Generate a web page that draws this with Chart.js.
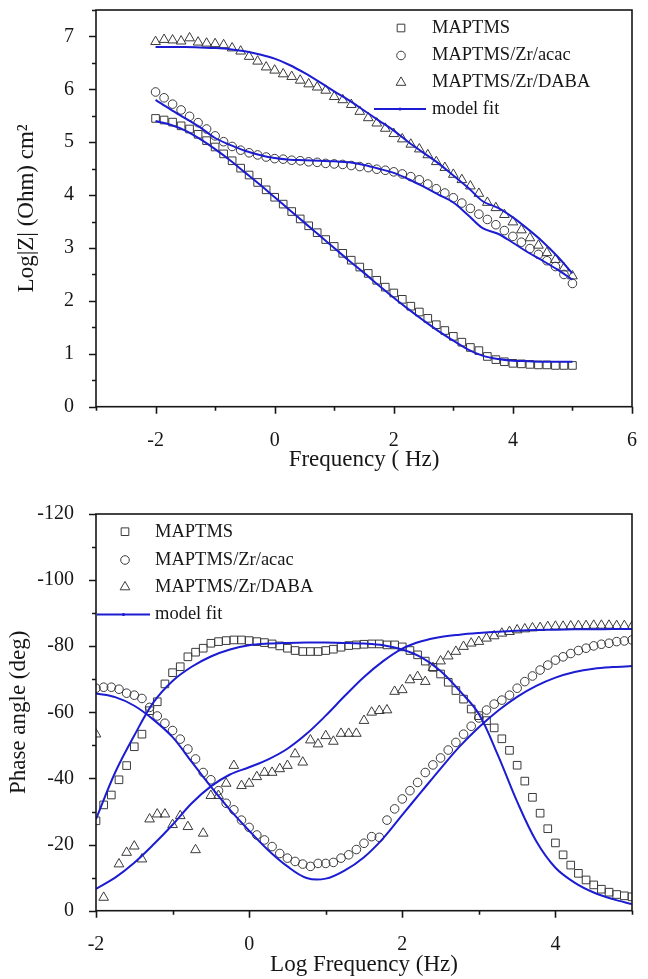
<!DOCTYPE html>
<html>
<head>
<meta charset="utf-8">
<script src="https://cdn.jsdelivr.net/npm/chart.js@4.4.1/dist/chart.umd.min.js"></script>
<style>
  html, body { margin: 0; padding: 0; background: #fff; }
  #wrap { position: relative; width: 648px; height: 979px; }
  canvas { position: absolute; left: 0; }
  #impedance { top: 0; }
  #phase { top: 490px; }
</style>
</head>
<body>
<div id="wrap">
  <canvas id="impedance" width="648" height="490"></canvas>
  <canvas id="phase" width="648" height="489"></canvas>
</div>
<script>
// log frequency of the |Z| points (about 7 per decade)
const zFreq = [
  -2.000, -1.857, -1.714, -1.571, -1.429, -1.286, -1.143, -1.000, -0.857, -0.714,
  -0.571, -0.429, -0.286, -0.143,  0.000,  0.143,  0.286,  0.429,  0.571,  0.714,
   0.857,  1.000,  1.143,  1.286,  1.429,  1.571,  1.714,  1.857,  2.000,  2.143,
   2.286,  2.429,  2.571,  2.714,  2.857,  3.000,  3.143,  3.286,  3.429,  3.571,
   3.714,  3.857,  4.000,  4.143,  4.286,  4.429,  4.571,  4.714,  4.857,  5.000
];
// log frequency of the phase points (10 per decade)
const pFreq = [
  -2.0, -1.9, -1.8, -1.7, -1.6, -1.5, -1.4, -1.3, -1.2, -1.1,
  -1.0, -0.9, -0.8, -0.7, -0.6, -0.5, -0.4, -0.3, -0.2, -0.1,
   0.0,  0.1,  0.2,  0.3,  0.4,  0.5,  0.6,  0.7,  0.8,  0.9,
   1.0,  1.1,  1.2,  1.3,  1.4,  1.5,  1.6,  1.7,  1.8,  1.9,
   2.0,  2.1,  2.2,  2.3,  2.4,  2.5,  2.6,  2.7,  2.8,  2.9,
   3.0,  3.1,  3.2,  3.3,  3.4,  3.5,  3.6,  3.7,  3.8,  3.9,
   4.0,  4.1,  4.2,  4.3,  4.4,  4.5,  4.6,  4.7,  4.8,  4.9, 5.0
];
// log frequency of the model fit curves
const fitFreq = [-2, -1.75, -1.5, -1.25, -1, -0.75, -0.5, -0.25, 0, 0.25, 0.5, 0.75, 1, 1.25,
  1.5, 1.75, 2, 2.25, 2.5, 2.75, 3, 3.25, 3.5, 3.75, 4, 4.25, 4.5, 4.75, 5];

// Log|Z| measured
const zMaptms = [
  5.45, 5.42, 5.38, 5.31, 5.25, 5.15, 5.03, 4.91, 4.78, 4.65,
  4.51, 4.38, 4.24, 4.10, 3.96, 3.83, 3.69, 3.55, 3.42, 3.29,
  3.16, 3.03, 2.90, 2.77, 2.64, 2.52, 2.39, 2.26, 2.15, 2.03,
  1.90, 1.79, 1.67, 1.55, 1.44, 1.33, 1.22, 1.12, 1.06, 0.95,
  0.89, 0.85, 0.82, 0.81, 0.80, 0.79, 0.79, 0.78, 0.78, 0.78
];
const zAcac = [
  5.95, 5.84, 5.72, 5.61, 5.49, 5.37, 5.25, 5.12, 5.01, 4.92,
  4.85, 4.80, 4.76, 4.72, 4.69, 4.68, 4.66, 4.65, 4.63, 4.62,
  4.60, 4.59, 4.58, 4.56, 4.54, 4.52, 4.49, 4.47, 4.44, 4.40,
  4.35, 4.29, 4.21, 4.12, 4.04, 3.95, 3.85, 3.75, 3.64, 3.54,
  3.44, 3.33, 3.22, 3.11, 2.99, 2.88, 2.76, 2.65, 2.50, 2.33
];
const zDaba = [
  6.90, 6.94, 6.93, 6.91, 6.97, 6.89, 6.87, 6.86, 6.84, 6.78,
  6.72, 6.62, 6.53, 6.42, 6.36, 6.29, 6.24, 6.17, 6.10, 6.04,
  5.98, 5.86, 5.80, 5.71, 5.58, 5.46, 5.36, 5.26, 5.16, 5.06,
  4.96, 4.87, 4.76, 4.63, 4.52, 4.39, 4.29, 4.17, 4.03, 3.86,
  3.76, 3.63, 3.49, 3.34, 3.19, 3.05, 2.91, 2.78, 2.62, 2.47
];
// Log|Z| model fit
const zFitMaptms = [5.40, 5.33, 5.22, 5.06, 4.87, 4.66, 4.43, 4.20, 3.96, 3.72, 3.48, 3.24, 3.00, 2.76,
  2.53, 2.29, 2.06, 1.84, 1.63, 1.43, 1.25, 1.08, 0.96, 0.90, 0.87, 0.86, 0.85, 0.85, 0.85];
const zFitAcac = [5.80, 5.62, 5.45, 5.28, 5.08, 4.95, 4.84, 4.76, 4.70, 4.67, 4.66, 4.65, 4.64, 4.62,
  4.57, 4.50, 4.42, 4.30, 4.16, 4.01, 3.86, 3.62, 3.37, 3.27, 3.10, 2.92, 2.76, 2.59, 2.40];
const zFitDaba = [6.80, 6.80, 6.80, 6.79, 6.78, 6.76, 6.72, 6.66, 6.58, 6.46, 6.31, 6.14, 5.96, 5.79,
  5.60, 5.41, 5.22, 5.00, 4.80, 4.60, 4.37, 4.14, 3.88, 3.76, 3.58, 3.36, 3.12, 2.84, 2.52];

// phase angle measured (deg)
const pMaptms = [
  -27.2, -32.0, -35.0, -39.6, -43.9, -49.6, -53.4, -60.5, -63.2, -68.6,
  -72.0, -73.8, -76.8, -78.2, -79.4, -80.9, -81.4, -81.7, -81.9, -81.9,
  -81.7, -81.4, -81.1, -80.7, -80.1, -79.4, -78.7, -78.4, -78.4, -78.4,
  -78.7, -79.1, -79.7, -80.2, -80.4, -80.6, -80.7, -80.7, -80.4, -80.4,
  -79.8, -78.7, -77.4, -75.5, -73.6, -71.6, -69.1, -66.6, -64.0, -61.0,
  -59.0, -57.5, -55.3, -52.0, -48.5, -44.0, -39.2, -34.3, -29.5, -24.8,
  -20.5, -16.9, -13.8, -11.3, -9.3, -7.8, -6.5, -5.6, -4.9, -4.5, -4.2
];
const pAcac = [
  -67.3, -67.6, -67.6, -67.0, -65.8, -65.2, -64.2, -61.5, -58.9, -56.7,
  -54.5, -51.9, -48.9, -45.9, -41.8, -39.6, -36.3, -32.5, -30.5, -27.4,
  -25.2, -22.9, -21.4, -19.4, -17.3, -15.9, -14.9, -14.1, -13.4, -14.3,
  -14.3, -14.6, -15.9, -16.9, -18.5, -20.4, -22.4, -22.2, -27.4, -30.8,
  -33.8, -36.3, -38.8, -41.8, -44.1, -46.2, -48.6, -50.9, -53.4, -55.8,
  -58.3, -60.7, -62.5, -63.7, -65.2, -67.3, -69.3, -71.0, -72.8, -74.3,
  -75.8, -76.8, -77.8, -78.7, -79.4, -80.1, -80.6, -80.9, -81.4, -81.6, -81.9
];
const pDaba = [
  -53.4, -4.0, null, -14.1, -17.6, -19.5, -15.6, -27.7, -29.2, -29.2,
  -26.0, -28.7, -25.4, -18.4, -23.4, -34.8, -34.8, -38.5, -43.9, -37.8,
  -38.5, -40.5, -41.8, -41.8, -42.9, -43.9, -47.4, -44.9, -51.6, -50.4,
  -52.9, -51.2, -53.6, -53.6, -53.6, -57.5, -60.0, -60.5, -60.7, -66.3,
  -66.8, -69.8, -70.8, -69.3, -73.5, -75.5, -77.0, -78.4, -79.9, -80.9,
  -81.4, -82.4, -83.1, -83.9, -84.4, -84.9, -85.2, -85.5, -85.6, -85.9,
  -86.0, -86.0, -86.1, -86.2, -86.2, -86.3, -86.3, -86.3, -86.2, -86.2, -86.0
];
// phase angle model fit
const pFitMaptms = [-27.7, -41.8, -53.0, -63.0, -69.5, -73.8, -76.9, -79.0, -80.3, -80.8, -81.0, -81.1,
  -81.1, -81.0, -80.8, -80.3, -79.0, -76.6, -72.5, -66.5, -59.5, -47.0, -33.0, -21.0, -13.0, -8.5, -5.5, -3.5, -2.0];
const pFitAcac = [-65.7, -64.6, -62.0, -57.8, -52.5, -45.0, -37.5, -30.5, -24.2, -18.3, -13.4, -9.9,
  -9.7, -12.2, -16.2, -21.9, -29.0, -36.0, -43.0, -49.7, -55.5, -60.5, -64.7, -68.0, -70.5, -72.2, -73.2, -73.7, -74.0];
const pFitDaba = [-6.6, -10.0, -14.5, -20.0, -26.0, -32.5, -37.6, -41.2, -43.4, -45.8, -49.0, -53.5,
  -59.0, -65.0, -70.7, -75.5, -79.3, -81.5, -82.8, -83.5, -84.0, -84.4, -84.7, -84.9, -85.0, -85.1, -85.1, -85.2, -85.2];

const seriesNames = ['MAPTMS', 'MAPTMS/Zr/acac', 'MAPTMS/Zr/DABA'];

const SERIF = "'Liberation Serif', 'Times New Roman', serif";
const INK = '#161616';
const FIT_BLUE = '#1c1cd2';

function pts(xs, ys) {
  return xs.map((x, i) => ({ x: x, y: ys[i] }));
}

function markerSet(label, xs, ys, style, r) {
  return {
    label: label, data: pts(xs, ys), showLine: false,
    pointStyle: style, pointRadius: r, pointHoverRadius: r,
    borderColor: '#3a3a3a', backgroundColor: 'rgba(0,0,0,0)', pointBorderWidth: 1,
    clip: 0, order: 2
  };
}

function fitSet(xs, ys) {
  return {
    label: 'model fit', data: pts(xs, ys), showLine: true, pointRadius: 0,
    borderColor: FIT_BLUE, borderWidth: 2, tension: 0.35,
    clip: 0, order: 1
  };
}

// box around the plot and outward ticks (long where labelled)
const frameTicks = {
  id: 'frameTicks',
  afterDraw(chart) {
    const { ctx, chartArea: a, scales } = chart;
    ctx.save();
    ctx.strokeStyle = INK;
    ctx.lineWidth = 1.6;
    ctx.strokeRect(a.left, a.top, a.right - a.left, a.bottom - a.top);
    ctx.beginPath();
    scales.x.ticks.forEach(t => {
      const px = Math.round(scales.x.getPixelForValue(t.value)) + 0.5;
      const len = t.label === '' ? 4 : 7;
      ctx.moveTo(px, a.bottom);
      ctx.lineTo(px, a.bottom + len);
    });
    scales.y.ticks.forEach(t => {
      const py = Math.round(scales.y.getPixelForValue(t.value)) + 0.5;
      const len = t.label === '' ? 4 : 7;
      ctx.moveTo(a.left, py);
      ctx.lineTo(a.left - len, py);
    });
    ctx.stroke();
    ctx.restore();
  }
};

// legend drawn inside the plot area
const insideLegend = {
  id: 'insideLegend',
  afterDraw(chart, args, opts) {
    if (!opts.rows) return;
    const ctx = chart.ctx;
    ctx.save();
    ctx.font = '18.5px ' + SERIF;
    ctx.textBaseline = 'middle';
    opts.entries.forEach((idx, i) => {
      const ds = chart.data.datasets[idx];
      const y = opts.rows[i];
      if (ds.showLine) {
        ctx.strokeStyle = ds.borderColor;
        ctx.lineWidth = 2;
        ctx.beginPath();
        ctx.moveTo(opts.lineFrom, y);
        ctx.lineTo(opts.lineTo, y);
        ctx.stroke();
        ctx.fillStyle = ds.borderColor;
        ctx.beginPath();
        ctx.arc((opts.lineFrom + opts.lineTo) / 2, y, 1.6, 0, Math.PI * 2);
        ctx.fill();
      } else {
        ctx.strokeStyle = ds.borderColor;
        ctx.fillStyle = 'rgba(0,0,0,0)';
        ctx.lineWidth = 1;
        Chart.helpers.drawPoint(ctx, { pointStyle: ds.pointStyle, radius: ds.pointRadius, borderWidth: 1, rotation: 0 }, opts.markerX, y);
      }
      ctx.fillStyle = INK;
      ctx.fillText(ds.label, opts.textX, y);
    });
    ctx.restore();
  }
};

Chart.register(frameTicks, insideLegend);

function baseOptions(cfg) {
  return {
    responsive: false,
    animation: false,
    events: [],
    layout: { padding: { left: 0, top: cfg.top, right: 16, bottom: 0 } },
    plugins: {
      legend: { display: false },
      tooltip: { enabled: false },
      insideLegend: cfg.legend
    },
    scales: {
      x: {
        type: 'linear', min: cfg.xMin, max: cfg.xMax,
        grid: { display: false },
        border: { display: false },
        ticks: {
          stepSize: 1, padding: 14, color: INK, maxRotation: 0, autoSkip: false,
          font: { family: SERIF, size: 20 },
          callback: v => (v % 2 === 0 ? String(v) : '')
        },
        title: {
          display: true, text: cfg.xTitle, color: INK,
          font: { family: SERIF, size: 23 }, padding: { top: 0, bottom: cfg.xTitlePad }
        },
        afterFit(s) { s.height = cfg.xHeight; s.paddingLeft = 0; s.paddingRight = 0; }
      },
      y: {
        type: 'linear', min: cfg.yMin, max: cfg.yMax, reverse: cfg.reverse,
        grid: { display: false },
        border: { display: false },
        ticks: {
          stepSize: cfg.yStep, padding: 14, color: INK, autoSkip: false,
          font: { family: SERIF, size: 20 },
          callback: cfg.yLabel
        },
        title: {
          display: true, text: cfg.yTitle, color: INK,
          font: { family: SERIF, size: 23 }, padding: { top: cfg.yTitlePad, bottom: 0 }
        },
        afterFit(s) { s.width = 96; s.paddingTop = 0; s.paddingBottom = 0; }
      }
    }
  };
}

new Chart(document.getElementById('impedance'), {
  type: 'scatter',
  data: {
    datasets: [
      fitSet(fitFreq, zFitMaptms),
      fitSet(fitFreq, zFitAcac),
      fitSet(fitFreq, zFitDaba),
      markerSet(seriesNames[0], zFreq, zMaptms, 'rect', 5.4),
      markerSet(seriesNames[1], zFreq, zAcac, 'circle', 4.3),
      markerSet(seriesNames[2], zFreq, zDaba, 'triangle', 5.6)
    ]
  },
  options: baseOptions({
    top: 10, xHeight: 83.3, xMin: -3, xMax: 6,
    yMin: 0, yMax: 7.5, yStep: 0.5, reverse: false,
    yLabel: v => (Number.isInteger(v) ? String(v) : ''),
    xTitle: 'Frequency ( Hz)', xTitlePad: 16,
    yTitle: 'Log|Z| (Ohm) cm\u00b2', yTitlePad: 13,
    legend: { entries: [3, 4, 5, 0], rows: [28, 55.5, 82.5, 109], markerX: 401, textX: 432, lineFrom: 374, lineTo: 426 }
  })
});

new Chart(document.getElementById('phase'), {
  type: 'scatter',
  data: {
    datasets: [
      fitSet(fitFreq, pFitMaptms),
      fitSet(fitFreq, pFitAcac),
      fitSet(fitFreq, pFitDaba),
      markerSet(seriesNames[0], pFreq, pMaptms, 'rect', 5.4),
      markerSet(seriesNames[1], pFreq, pAcac, 'circle', 4.3),
      markerSet(seriesNames[2], pFreq, pDaba, 'triangle', 5.6)
    ]
  },
  options: baseOptions({
    top: 24, xHeight: 68.3, xMin: -2, xMax: 5,
    yMin: -120, yMax: 0, yStep: 10, reverse: true,
    yLabel: v => (v % 20 === 0 ? String(v) : ''),
    xTitle: 'Log Frequency (Hz)', xTitlePad: 0,
    yTitle: 'Phase angle (deg)', yTitlePad: 5,
    legend: { entries: [3, 4, 5, 0], rows: [41.7, 70, 97, 124.5], markerX: 125, textX: 155, lineFrom: 97, lineTo: 150 }
  })
});
</script>
</body>
</html>
